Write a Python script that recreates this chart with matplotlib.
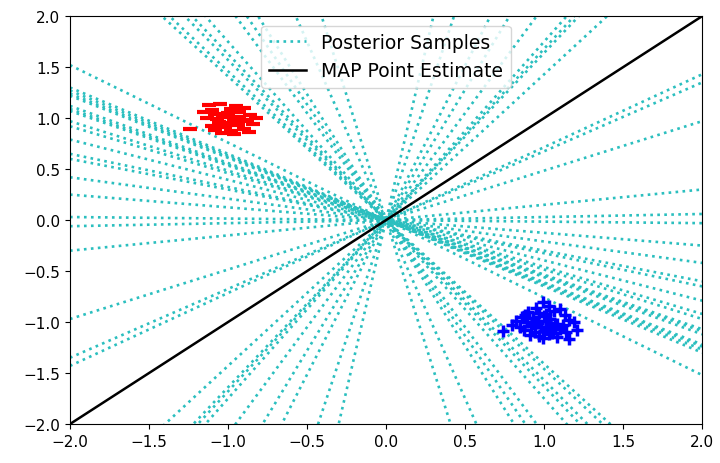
import numpy as np
import matplotlib
matplotlib.use("Agg")
import matplotlib.pyplot as plt

# slopes of the posterior sample decision lines (all through the origin)
sample_slopes = [-0.76, -0.65, -0.635, -0.62, -0.61, -0.56, -0.545, -0.535,
                 -0.485, -0.46, -0.395, -0.325, -0.30, -0.21, -0.125, -0.015,
                 0.03, 0.15, 0.485, 0.675, 0.715,
                 -1.41, -1.46, -1.57, -1.63, -1.75, -2.1, -2.27, -2.47, -3.5, -4.9,
                 6.67, 4.65, 3.03, 2.56, 2.1, 1.75, 1.68, 1.64, 1.43]
map_slope = 1.0

# class 1 (red) points
red_x = [-1.12, -1.05, -0.95, -1.10, -0.98, -0.90, -1.08, -1.00, -0.93, -0.86,
         -1.13, -1.03, -0.96, -0.88, -1.06, -0.99, -0.92, -1.10, -1.02, -0.94,
         -0.84, -1.24, -1.08, -0.98, -0.90, -1.04, -0.96, -0.87, -1.00, -1.07,
         -0.93, -0.82, -1.15, -1.01]
red_y = [1.13, 1.14, 1.12, 1.08, 1.09, 1.10, 1.04, 1.05, 1.06, 1.03,
         1.00, 1.01, 0.99, 0.98, 0.96, 0.95, 0.97, 0.92, 0.91, 0.93,
         0.94, 0.89, 0.88, 0.87, 0.89, 0.85, 0.84, 0.86, 1.02, 0.99,
         1.01, 1.00, 1.06, 0.93]

# class 2 (blue) points
blue_x = [0.99, 0.95, 1.03, 0.90, 0.97, 1.06, 1.10, 0.86, 0.93, 1.00,
          1.04, 1.13, 0.82, 0.89, 0.96, 1.01, 1.08, 1.16, 0.80, 0.92,
          0.98, 1.02, 1.07, 1.12, 1.19, 0.74, 0.87, 0.94, 1.00, 1.05,
          1.10, 0.91, 0.97, 1.03, 1.16, 0.85, 0.99, 1.08, 0.95, 1.01,
          1.14, 0.88, 1.04, 0.93, 1.21]
blue_y = [-0.80, -0.86, -0.84, -0.90, -0.91, -0.89, -0.87, -0.95, -0.96, -0.94,
          -0.97, -0.93, -0.99, -1.00, -1.01, -0.99, -1.02, -0.98, -1.03, -1.04,
          -1.05, -1.06, -1.04, -1.03, -1.00, -1.09, -1.08, -1.10, -1.09, -1.11,
          -1.07, -1.13, -1.14, -1.12, -1.17, -1.05, -1.16, -1.15, -0.99, -0.92,
          -1.10, -0.93, -1.01, -1.02, -1.08]

fig = plt.figure(figsize=(7.2, 4.64), dpi=100)
ax = fig.add_axes([0.0972, 0.084, 0.878, 0.879])

xs = np.array([-2.0, 2.0])
for i, s in enumerate(sample_slopes):
    ax.plot(xs, s * xs, ':', color='#2bbfbf', lw=1.9,
            label='Posterior Samples' if i == 0 else None)
ax.plot(xs, map_slope * xs, 'k-', lw=1.8, label='MAP Point Estimate')

ax.plot(red_x, red_y, 'r_', ms=10, mew=3)
ax.plot(blue_x, blue_y, 'b+', ms=9, mew=2.5)

ax.set_xlim(-2, 2)
ax.set_ylim(-2, 2)
ax.legend(loc='upper center', fontsize=13.5)
ax.tick_params(labelsize=11)

fig.savefig('out.png', dpi=100)
